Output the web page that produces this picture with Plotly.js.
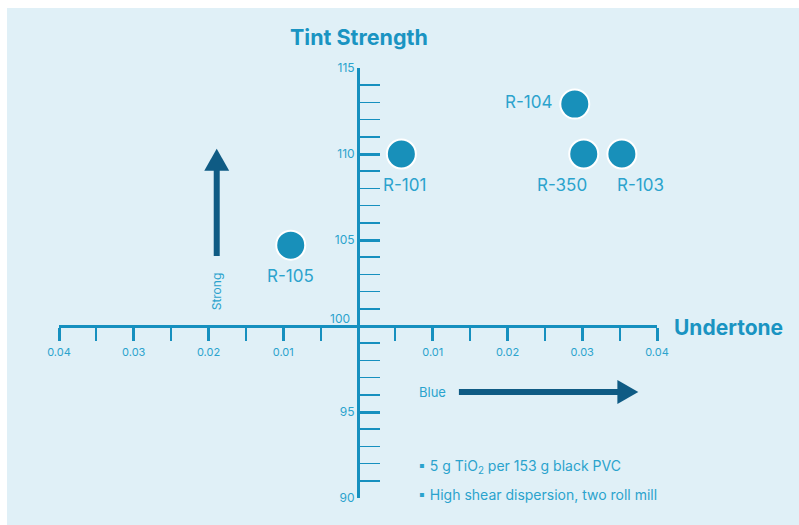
<!DOCTYPE html>
<html><head><meta charset="utf-8">
<script src="https://cdn.plot.ly/plotly-3.0.1.min.js"></script>
<style>html,body{margin:0;padding:0;background:#fff}</style>
</head><body><div id="chart" style="width:799px;height:525px"></div>
<script>
const names = ['R-104','R-350','R-103','R-101','R-105','R-960'];
const undertone = [0.029, 0.0302, 0.0353, 0.0058, -0.009, -0.0299];
const tintStrength = [112.9, 110, 110, 110, 104.7, 89.9];
const xTickVals = [-0.04,-0.03,-0.02,-0.01,0.01,0.02,0.03,0.04];
const xTickText = ['0.04','0.03','0.02','0.01','0.01','0.02','0.03','0.04'];
const yTickVals = [90,95,105,110,115];
const notes = ['5 g TiO<sub>2</sub> per 153 g black PVC','High shear dispersion, two roll mill'];

const AXIS = '#1690bf', LABEL = '#2ba3cd', DOT = '#1890ba', ARROW = '#0f5b84', TITLE = '#1a94c2';
const FONT = 'Inter, "Open Sans", sans-serif';

// label offsets (px) relative to each point, style only
const labelShift = [[-46, 2], [-22, -31], [19, -31], [3, -31], [0, -31], [2, 29]];

const trace = {
  type: 'scatter', mode: 'markers',
  x: undertone, y: tintStrength,
  cliponaxis: false, hoverinfo: 'skip',
  marker: {size: 29, color: DOT, line: {color: '#ffffff', width: 2}}
};

const shapes = [
  {type:'rect', xref:'paper', yref:'paper', x0:-0.087, x1:1.24, y0:-0.07, y1:1.1395, fillcolor:'#e0f0f7', line:{width:0}, layer:'below'},
  // vertical arrow (Strong)
  {type:'line', xref:'x', yref:'y', x0:-0.0189, x1:-0.0189, y0:104.07, y1:109.1, line:{color:ARROW, width:6}},
  {type:'path', xref:'x', yref:'y', path:'M -0.02057 109.03 L -0.01723 109.03 L -0.0189 110.3 Z', fillcolor:ARROW, line:{width:0}},
  // horizontal arrow (Blue)
  {type:'line', xref:'x', yref:'y', x0:0.0135, x1:0.0349, y0:96.16, y1:96.16, line:{color:ARROW, width:6}},
  {type:'path', xref:'x', yref:'y', path:'M 0.0347 96.86 L 0.0347 95.46 L 0.0375 96.16 Z', fillcolor:ARROW, line:{width:0}}
];

const annotations = [
  {xref:'paper', yref:'paper', x:0.502, y:1.072, xanchor:'center', yanchor:'middle', text:'<b>Tint Strength</b>', showarrow:false, font:{family:FONT, size:21.5, color:TITLE}},
  {xref:'paper', yref:'y', x:1.119, y:100, xanchor:'center', yanchor:'middle', yshift:-1, text:'<b>Undertone</b>', showarrow:false, font:{family:FONT, size:21, color:TITLE}},
  {xref:'x', yref:'y', x:0, y:100, xanchor:'right', yanchor:'middle', xshift:-6, yshift:8, text:'100', showarrow:false, font:{family:FONT, size:12, color:LABEL}},
  {xref:'x', yref:'y', x:-0.0189, y:102.0, xanchor:'center', yanchor:'middle', text:'Strong', textangle:-90, showarrow:false, font:{family:FONT, size:12, color:LABEL}},
  {xref:'x', yref:'y', x:0.0100, y:96.16, xanchor:'center', yanchor:'middle', text:'Blue', showarrow:false, font:{family:FONT, size:13, color:LABEL}}
];
names.forEach((n, i) => {
  annotations.push({xref:'x', yref:'y', x:undertone[i], y:tintStrength[i], xanchor:'center', yanchor:'middle',
    xshift:labelShift[i][0], yshift:labelShift[i][1], text:n, showarrow:false, font:{family:FONT, size:17, color:LABEL}});
});
notes.forEach((t, i) => {
  annotations.push({xref:'x', yref:'y', x:0.0078, y:91.82 - i*1.59, xanchor:'left', yanchor:'middle', text:'▪ ' + t, showarrow:false, font:{family:FONT, size:14, color:LABEL}});
});

const layout = {
  width: 799, height: 525,
  margin: {l:59, r:142, t:68, b:27},
  paper_bgcolor: '#ffffff', plot_bgcolor: 'rgba(0,0,0,0)',
  showlegend: false,
  xaxis: {
    range: [-0.04, 0.04], anchor: 'free', position: 0.4,
    showgrid: false, zeroline: false, showline: true, linecolor: AXIS, linewidth: 3,
    tickmode: 'array', tickvals: xTickVals, ticktext: xTickText,
    ticks: 'outside', ticklen: 13, tickwidth: 3, tickcolor: AXIS,
    tickfont: {family: FONT, size: 11, color: LABEL}, ticklabelstandoff: 2,
    minor: {tickmode: 'linear', tick0: 0, dtick: 0.005, ticks: 'outside', ticklen: 13, tickwidth: 2, tickcolor: AXIS, showgrid: false},
    automargin: false, fixedrange: true
  },
  yaxis: {
    range: [90, 115], anchor: 'free', position: 0.5,
    showgrid: false, zeroline: false, showline: true, linecolor: AXIS, linewidth: 3,
    tickmode: 'array', tickvals: yTickVals,
    ticks: 'inside', ticklen: 20, tickwidth: 3, tickcolor: AXIS,
    tickfont: {family: FONT, size: 12, color: LABEL},
    minor: {tickmode: 'linear', tick0: 90, dtick: 1, ticks: 'inside', ticklen: 20, tickwidth: 1.5, tickcolor: AXIS, showgrid: false},
    automargin: false, fixedrange: true
  },
  shapes: shapes,
  annotations: annotations
};

Plotly.newPlot('chart', [trace], layout, {displayModeBar: false, staticPlot: true});
</script></body></html>
